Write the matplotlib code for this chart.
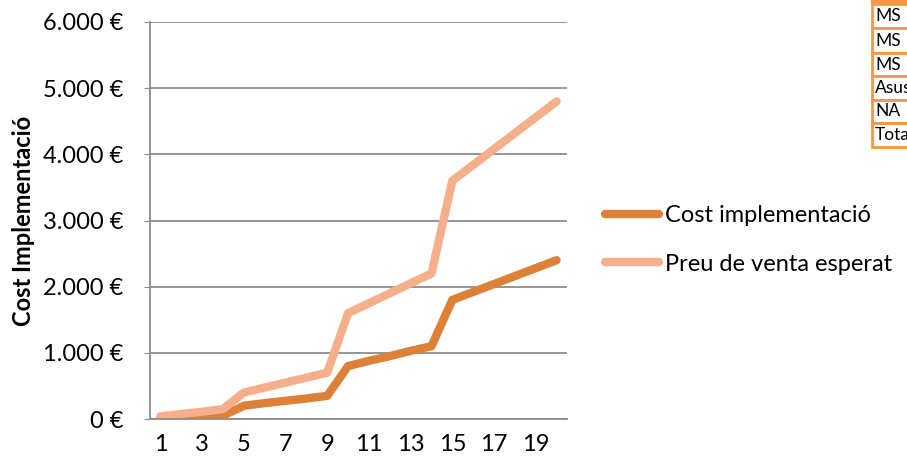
import matplotlib.pyplot as plt
from matplotlib.patches import Rectangle
from matplotlib.ticker import FuncFormatter

plt.rcParams['font.family'] = ['Lato', 'DejaVu Sans']

# unitats (1..20) i valors en euros
units = list(range(1, 21))
cost = [0, 15, 30, 50, 200, 240, 275, 310, 350, 800,
        880, 950, 1030, 1100, 1800, 1920, 2040, 2160, 2280, 2400]
price = [40, 75, 110, 150, 400, 475, 550, 625, 700, 1600,
         1750, 1900, 2050, 2200, 3600, 3840, 4080, 4320, 4560, 4800]

table_rows = ['MS', 'MS', 'MS', 'Asus', 'NA', 'Total']

W, H = 907, 462
fig = plt.figure(figsize=(W / 100, H / 100), dpi=100)
ax = fig.add_axes([150 / W, 1 - 419 / H, 417 / W, 397 / H])

ax.plot(units, cost, color='#DD8038', lw=6, solid_capstyle='round',
        solid_joinstyle='round', label='Cost implementació')
ax.plot(units, price, color='#F5B08B', lw=6, solid_capstyle='round',
        solid_joinstyle='round', label='Preu de venta esperat')

ax.set_xlim(0.5, 20.5)
ax.set_ylim(0, 6000)
ax.set_xticks(range(1, 21, 2))
ax.set_yticks(range(0, 6001, 1000))


def euro(v, pos):
    return f'{int(v):,} €'.replace(',', '.')


ax.yaxis.set_major_formatter(FuncFormatter(euro))
ax.grid(axis='y', color='#8C8C8C', lw=1.3)
ax.set_axisbelow(True)
for s in ['top', 'right']:
    ax.spines[s].set_visible(False)
for s in ['left', 'bottom']:
    ax.spines[s].set_color('#8C8C8C')
    ax.spines[s].set_linewidth(1.3)
ax.tick_params(axis='y', length=4, color='#8C8C8C', labelsize=17, pad=15)
ax.tick_params(axis='x', length=0, labelsize=17, pad=11)
ax.set_ylabel('Cost Implementació', fontsize=17, fontweight='bold')
ax.yaxis.set_label_coords(-0.276, 0.5)

leg = ax.legend(loc='upper left', bbox_to_anchor=(1.091, 0.538), frameon=False,
                fontsize=17, handlelength=2.3, handletextpad=0.25,
                labelspacing=1.15, borderpad=0, borderaxespad=0)
for h in leg.get_lines():
    h.set_solid_capstyle('round')

# fragment de taula a la cantonada superior dreta
fig.patches.append(Rectangle((871 / W, 1 - 4 / H), 0.1, 4 / H,
                             transform=fig.transFigure, color='#F79646'))
edges = [4, 28, 53, 76, 100, 123, 147]
for i, name in enumerate(table_rows):
    top, bot = edges[i], edges[i + 1]
    fig.patches.append(Rectangle((872 / W, 1 - bot / H), 0.1, (bot - top) / H,
                                 transform=fig.transFigure, facecolor='white',
                                 edgecolor='#F79646', lw=2))
    fig.text(875 / W, 1 - (top + bot) / 2 / H, name, fontsize=12.5,
             va='center', ha='left')

fig.savefig('out.png', dpi=100)
